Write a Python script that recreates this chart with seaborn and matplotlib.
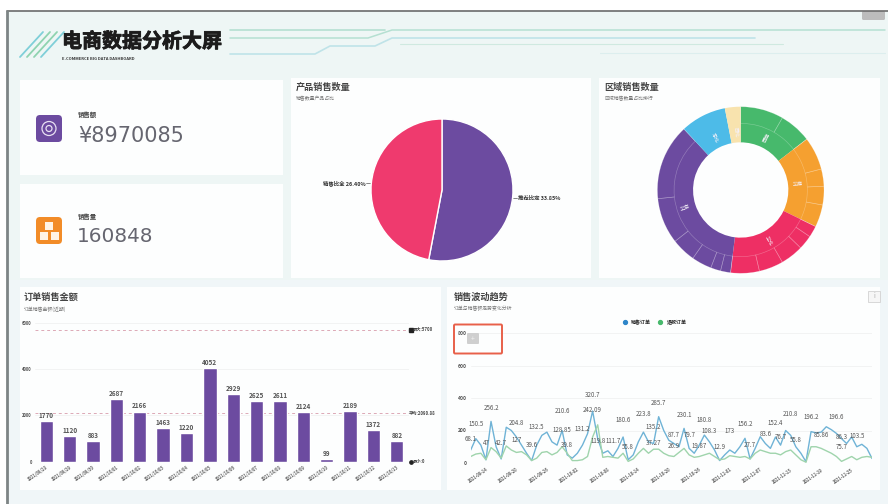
import numpy as np
import pandas as pd
import seaborn as sns
import matplotlib
matplotlib.use("Agg")
import matplotlib.pyplot as plt
import matplotlib.patheffects as pe
from matplotlib.patches import FancyBboxPatch, Rectangle
from matplotlib.lines import Line2D

W, H = 888, 504

# ---------- data ----------
title_text = "电商数据分析大屏"
subtitle_text = "E-COMMERCE BIG DATA DASHBOARD"
kpi_sales = "¥8970085"
kpi_volume = "160848"

pie_names = ["推荐比定 33.85%", "销售比全 26.40%"]
pie_values = [53, 47]

ring_names = ["西南", "华南", "华北", "华东", "东北", "西北"]
ring_values = [52.4, 63.6, 71, 130, 32, 11]
ring_sub_values = [30, 22.4, 23, 12, 13, 15.6, 8, 10, 16, 17, 20, 7, 7, 14, 17, 32, 53, 32, 11]
ring_sub_groups = [0, 0, 1, 1, 1, 1, 2, 2, 2, 2, 2, 3, 3, 3, 3, 3, 3, 4, 5]

bar_dates = ["2021/09/28", "2021/09/29", "2021/09/30", "2021/10/01", "2021/10/02", "2021/10/03",
             "2021/10/04", "2021/10/05", "2021/10/06", "2021/10/07", "2021/10/08", "2021/10/09",
             "2021/10/10", "2021/10/11", "2021/10/12", "2021/10/13"]
bar_values = [1770, 1120, 883, 2687, 2166, 1463, 1220, 4052, 2929, 2625, 2611, 2124, 99, 2189, 1372, 882]
bar_max, bar_avg, bar_min = 5700, 2090, 0
bar_ticks = [0, 2000, 4000, 6000]

blue_values = [80, 150, 110, 20, 256, 100, 25, 220, 200, 160, 110, 60, 15, 110, 170, 190, 130, 110, 200, 50,
               30, 60, 110, 180, 320, 150, 60, 75, 40, 90, 160, 20, 50, 130, 190, 130, 120, 285, 200, 140,
               120, 100, 213, 90, 60, 110, 172, 130, 80, 15, 50, 80, 60, 100, 152, 25, 90, 162, 120, 90,
               160, 110, 200, 170, 100, 60, 8, 193, 185, 190, 223, 205, 182, 150, 120, 160, 100, 115, 90, 28]
green_values = [40, 55, 60, 20, 95, 70, 30, 105, 80, 65, 70, 50, 15, 30, 65, 70, 50, 65, 100, 60,
                15, 15, 20, 40, 160, 235, 35, 40, 35, 30, 60, 10, 25, 60, 90, 60, 85, 85, 60, 45,
                40, 65, 90, 50, 35, 40, 50, 60, 40, 20, 25, 45, 40, 35, 40, 25, 60, 80, 70, 60,
                60, 50, 70, 80, 50, 20, 5, 100, 100, 90, 75, 60, 40, 10, 25, 40, 20, 35, 40, 35]
line_tick_idx = [3, 9, 15, 21, 27, 33, 39, 45, 51, 57, 63, 69, 75]
line_tick_labels = ["2021-09-14", "2021-09-20", "2021-09-26", "2021-10-02", "2021-10-08", "2021-10-14", "2021-10-20",
                    "2021-10-26", "2021-11-01", "2021-11-07", "2021-11-13", "2021-11-19", "2021-11-25"]
line_yticks = [0, 200, 400, 600, 800]
label_idx = [0, 1, 3, 4, 6, 9, 9, 12, 13, 18, 18, 19, 22, 24, 24, 25, 28, 30, 31, 34, 36, 36, 37, 40, 42,
             40, 43, 45, 46, 47, 51, 49, 54, 55, 60, 58, 61, 63, 64, 67, 69, 72, 73, 73, 76]
label_height = [148, 242, 123, 338, 123, 246, 144, 113, 219, 205, 322, 113, 211, 420, 324, 133, 133, 263, 96,
                304, 219, 123, 369, 170, 293, 107, 170, 107, 263, 195, 195, 96, 240, 113, 246, 178, 160, 302,
                139, 281, 170, 281, 158, 96, 168]
label_text = ["68.1", "150.5", "47", "256.2", "42.7", "204.8", "127", "39.6", "132.5", "128.85", "210.6", "39.8",
              "131.2", "320.7", "242.09", "119.8", "111.7", "180.6", "55.8", "223.8", "135.2", "37.27", "285.7",
              "87.7", "230.1", "26.9", "79.7", "19.87", "180.8", "108.3", "173", "12.9", "156.2", "27.7", "152.4",
              "83.6", "76.7", "210.8", "55.8", "196.2", "85.86", "196.6", "86.3", "75.7", "103.5"]

# ---------- style ----------
PURPLE, PINK, GREEN, ORANGE, SKY, CREAM = "#6c4ba0", "#ef3a6e", "#47b96c", "#f5a030", "#4dbbe8", "#f8e3ae"
ring_colors = [GREEN, ORANGE, "#ee2f64", PURPLE, SKY, CREAM]

sns.set_theme(style="white")
plt.rcParams["font.family"] = ["Noto Sans CJK SC", "DejaVu Sans"]
plt.rcParams["axes.unicode_minus"] = False

fig = plt.figure(figsize=(W / 100, H / 100), dpi=100, facecolor="white")


def px_axes(x0, y0, x1, y1, **kw):
    ax = fig.add_axes([x0 / W, 1 - y1 / H, (x1 - x0) / W, (y1 - y0) / H], **kw)
    ax.patch.set_alpha(0)
    return ax


# ---------- backdrop ----------
bg = px_axes(0, 0, W, H, zorder=0)
bg.set_xlim(0, W)
bg.set_ylim(H, 0)
bg.axis("off")
bg.add_patch(Rectangle((7, 11), W - 7, H - 11, fc="#eef6f5", ec="none"))
bg.add_patch(Rectangle((7, 280), W - 7, H - 280, fc="#f0f6f8", ec="none"))
bg.plot([7, W], [11, 11], color="#6b6b6b", lw=1.2)
bg.plot([7, 7], [11, H], color="#7d8485", lw=2)
bg.add_patch(FancyBboxPatch((862, 11), 23, 9, boxstyle="round,pad=0,rounding_size=1.5", fc="#bcbcbc", ec="none"))

for x0, y0, x1, y1 in [(20, 80, 283, 175), (20, 184, 283, 278), (291, 78, 591, 278),
                       (599, 78, 880, 278), (20, 287, 441, 490), (447, 287, 880, 490)]:
    bg.add_patch(Rectangle((x0, y0), x1 - x0, y1 - y0, fc="#fdfefe", ec="none"))

# header stripes and circuit lines
for off, c in [(0, "#7fcfd8"), (7, "#8fd3b0"), (14, "#8fd3b0"), (21, "#7fcfd8")]:
    bg.plot([20 + off, 43 + off], [57, 32], color=c, lw=1.3)
bg.plot([230, 385], [30, 30], color="#b5e0d2", lw=1.2)
bg.plot([230, 368, 392, 885], [38, 38, 30, 30], color="#b5e0d2", lw=1.1)
bg.plot([230, 315, 330, 375, 392, 755], [54, 54, 46, 46, 38, 38], color="#bfe3e8", lw=1.2)
bg.plot([400, 783], [44, 44], color="#cfe9e0", lw=0.8)
bg.plot([600, 885], [53, 53], color="#dceeee", lw=0.8)

bg.text(62, 41, title_text, fontsize=14.4, fontweight="bold", color="#1c1c1c", va="center", ha="left",
        path_effects=[pe.withStroke(linewidth=0.6, foreground="#1c1c1c")])
bg.text(62, 59, subtitle_text, fontsize=2.9, fontweight="bold", color="#333333", va="center", ha="left")

# KPI cards
bg.add_patch(FancyBboxPatch((36, 115), 26, 27, boxstyle="round,pad=0,rounding_size=4", fc=PURPLE, ec="none"))
bg.add_patch(plt.Circle((49, 128.5), 7, fc="none", ec="#e8e0f2", lw=0.9))
bg.add_patch(plt.Circle((49, 128.5), 3, fc="none", ec="#e8e0f2", lw=0.9))
bg.add_patch(FancyBboxPatch((36, 217), 26, 27, boxstyle="round,pad=0,rounding_size=4", fc="#f28c28", ec="none"))
for bx, by in [(45, 222), (40, 232), (51, 232)]:
    bg.add_patch(Rectangle((bx, by), 8, 8, fc="#fff4e6", ec="none"))
bg.text(78, 115, "销售额", fontsize=4.6, fontweight="bold", color="#444444", va="center")
bg.text(78, 217, "销售量", fontsize=4.6, fontweight="bold", color="#444444", va="center")
bg.text(78, 136, kpi_sales, fontsize=15, color="#666670", va="center", fontfamily=["DejaVu Sans"])
bg.text(77, 237, kpi_volume, fontsize=14.4, color="#666670", va="center", fontfamily=["DejaVu Sans"])

# card titles
for x, y, t, s in [(296, 87, "产品销售数量", "销售数量产品占比"), (604, 87, "区域销售数量", "区域销售数量占比排行"),
                   (24, 297, "订单销售金额", "订单销售金额(近期)"), (454, 297, "销售波动趋势", "订单与销售额走势变化分析")]:
    bg.text(x, y, t, fontsize=6.6, fontweight="bold", color="#444444", va="center")
    bg.text(x, y + 12, s, fontsize=3.5, color="#777777", va="center")

# ---------- pie ----------
cx, cy, r = 442, 190, 71
pie_ax = px_axes(cx - r, cy - r, cx + r, cy + r, zorder=2)
pie_ax.pie(pie_values, colors=[PURPLE, PINK], startangle=90, counterclock=False, radius=1)
pie_ax.set_xlim(-1, 1)
pie_ax.set_ylim(-1, 1)
bg.plot([513, 517], [198, 198], color="#555555", lw=0.5)
bg.plot([366, 371], [183, 183], color="#555555", lw=0.5)
bg.text(518, 198, pie_names[0], fontsize=3.9, fontweight="bold", color="#333333", va="center", ha="left")
bg.text(366, 183, pie_names[1], fontsize=3.9, fontweight="bold", color="#333333", va="center", ha="right")

# ---------- sunburst ----------
cx, cy, r = 740.7, 190, 83.3
ring_ax = px_axes(cx - r, cy - r, cx + r, cy + r, zorder=2)
inner, _ = ring_ax.pie(ring_values, colors=ring_colors, startangle=90, counterclock=False, radius=1,
                       wedgeprops=dict(width=0.428, linewidth=0))
outer, _ = ring_ax.pie(ring_sub_values, startangle=90, counterclock=False, radius=1,
                       wedgeprops=dict(width=0.2, linewidth=0.45))
for w, g in zip(outer, ring_sub_groups):
    w.set_facecolor("none")
    w.set_edgecolor("none" if g >= 4 else (1, 1, 1, 0.28))
ring_ax.set_xlim(-1, 1)
ring_ax.set_ylim(-1, 1)
for w, name in zip(inner, ring_names):
    mid = (w.theta1 + w.theta2) / 2
    rot = mid if -90 <= ((mid + 180) % 360 - 180) <= 90 else mid + 180
    ring_ax.text(0.695 * np.cos(np.radians(mid)), 0.695 * np.sin(np.radians(mid)), name, color="#f4f0f8",
                 fontsize=3.8, rotation=rot, rotation_mode="anchor", ha="center", va="center")

# ---------- bars ----------
x0_bar = 46.3 - 11.7
bar_ax = px_axes(x0_bar, 322.7, x0_bar + 16 * 23.37, 461.7, zorder=2)
for v in bar_ticks[1:]:
    bar_ax.axhline(v, color="#f1f1f1", lw=0.6, zorder=0)
sns.barplot(x=bar_dates, y=bar_values, color=PURPLE, saturation=1, width=0.57, ax=bar_ax, zorder=2)
bar_ax.bar_label(bar_ax.containers[0], fontsize=4.6, fontweight="bold", color="#555555", padding=1.5)
for v in (bar_max, bar_avg, bar_min):
    bar_ax.axhline(v, color="#dda9b6", lw=0.7, ls=(0, (3, 3)), zorder=1)
bar_ax.set_ylim(0, 6000)
bar_ax.set_xlim(-0.5, 15.5)
bar_ax.set_yticks(bar_ticks)
bar_ax.set_yticklabels([str(v) for v in bar_ticks], fontsize=3, fontweight="bold", color="#555555")
bar_ax.tick_params(axis="y", length=0, pad=2)
bar_ax.tick_params(axis="x", length=0, pad=2.5)
plt.setp(bar_ax.get_xticklabels(), rotation=35, ha="right", rotation_mode="anchor", fontsize=3,
         fontweight="bold", color="#666666")
sns.despine(ax=bar_ax, left=True, bottom=True)
trans = bar_ax.get_yaxis_transform()
bar_ax.plot([1.006], [bar_max], marker="s", ms=2.4, color="#222222", transform=trans, clip_on=False)
bar_ax.plot([1.006], [bar_min], marker="o", ms=2.4, color="#222222", transform=trans, clip_on=False)
for v, txt, xp in [(bar_max, "最大:5700", 1.012), (bar_avg, "平均:2090.88", 1.002), (bar_min, "最小:0", 1.012)]:
    bar_ax.text(xp, v, txt, transform=trans, fontsize=3.1, fontweight="bold", color="#444444", va="center", clip_on=False)

# ---------- lines ----------
line_ax = px_axes(470.7, 333, 872, 463, zorder=2)
for v in line_yticks[1:]:
    line_ax.axhline(v, color="#f1f1f1", lw=0.6, zorder=0)
idx = np.arange(len(blue_values))
line_df = pd.DataFrame({"idx": np.r_[idx, idx], "value": blue_values + green_values,
                        "series": ["销售订单"] * len(idx) + ["退款订单"] * len(idx)})
sns.lineplot(data=line_df, x="idx", y="value", hue="series", palette=["#6fb3d6", "#9fd4ac"], linewidth=1,
             legend=False, ax=line_ax)
for i, h, t in zip(label_idx, label_height, label_text):
    line_ax.text(i, h, t, fontsize=4.4, color="#555555", ha="center", va="center", clip_on=False)
line_ax.set_xlim(0, 79)
line_ax.set_ylim(0, 800)
line_ax.set_xlabel("")
line_ax.set_ylabel("")
line_ax.set_yticks(line_yticks)
line_ax.set_yticklabels([str(v) for v in line_yticks], fontsize=3.6, fontweight="bold", color="#555555")
line_ax.set_xticks(line_tick_idx)
line_ax.set_xticklabels(line_tick_labels, rotation=35, ha="right", rotation_mode="anchor", fontsize=3,
                        fontweight="bold", color="#666666")
line_ax.tick_params(axis="both", length=0, pad=3)
sns.despine(ax=line_ax, left=True, bottom=True)
handles = [Line2D([], [], marker="o", ls="", ms=2.8, color=c) for c in ["#2f86c9", "#47b96c"]]
line_ax.legend(handles, ["销售订单", "退款订单"], loc="center", bbox_to_anchor=(0.455, 1.08), ncol=2, frameon=False,
               handletextpad=0.3, columnspacing=0.8, prop=dict(size=3.6, weight="bold"))

# ---------- overlays on top of the line chart ----------
top = px_axes(0, 0, W, H, zorder=5)
top.set_xlim(0, W)
top.set_ylim(H, 0)
top.axis("off")
top.add_patch(FancyBboxPatch((454, 324.5), 48, 29, boxstyle="round,pad=0,rounding_size=1.2", fc="none",
                             ec="#e8604a", lw=1.4))
top.add_patch(FancyBboxPatch((467, 333), 12, 11, boxstyle="round,pad=0,rounding_size=1", fc="#cfcfcf", ec="none"))
top.text(473, 338.5, "+", fontsize=5, color="#f4f4f4", ha="center", va="center")
top.add_patch(Rectangle((868, 291), 12, 11, fc="#f6f6f6", ec="#d2d2d2", lw=0.6))
top.text(874, 296.5, "i", fontsize=4.5, color="#aaaaaa", ha="center", va="center")

fig.savefig("out.png", dpi=100)
